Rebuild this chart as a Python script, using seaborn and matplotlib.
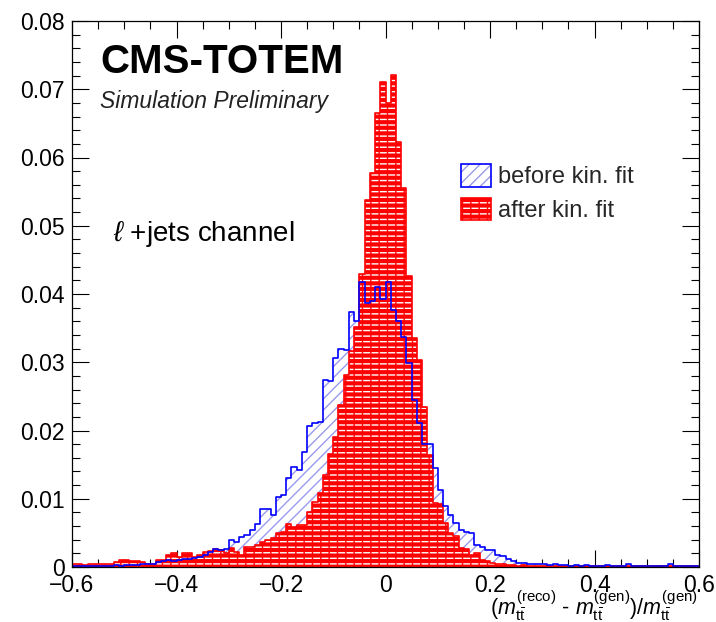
import numpy as np
import pandas as pd
import matplotlib
matplotlib.use("Agg")
import matplotlib.pyplot as plt
from matplotlib.patches import Patch
from matplotlib.ticker import MultipleLocator, FixedLocator
import seaborn as sns

# ---------------- data ----------------
x_min, x_max, bin_width = -0.6, 0.6, 0.01
y_ticks = [0, 0.01, 0.02, 0.03, 0.04, 0.05, 0.06, 0.07, 0.08]
x_ticks = [-0.6, -0.4, -0.2, 0, 0.2, 0.4, 0.6]

before_fit = [
    0.0002, 0.0002, 0.0001, 0.0002, 0.0002, 0.0001, 0.0002, 0.0002, 0.0003, 0.0002,
    0.0003, 0.0003, 0.0003, 0.0004, 0.0004, 0.0005, 0.0007, 0.0009, 0.0010, 0.0009,
    0.0010, 0.0011, 0.0012, 0.0013, 0.0015, 0.0018, 0.0022, 0.0027, 0.0025, 0.0027,
    0.0040, 0.0037, 0.0044, 0.0047, 0.0054, 0.0063, 0.0085, 0.0085, 0.0076, 0.0102,
    0.0106, 0.0130, 0.0147, 0.0142, 0.0169, 0.0207, 0.0211, 0.0212, 0.0274, 0.0272,
    0.0306, 0.0319, 0.0318, 0.0374, 0.0360, 0.0417, 0.0387, 0.0390, 0.0410, 0.0392,
    0.0417, 0.0377, 0.0360, 0.0337, 0.0299, 0.0245, 0.0211, 0.0180, 0.0180, 0.0145,
    0.0113, 0.0090, 0.0076, 0.0064, 0.0054, 0.0052, 0.0050, 0.0032, 0.0030, 0.0025,
    0.0025, 0.0018, 0.0016, 0.0012, 0.0009, 0.0006, 0.0006, 0.0005, 0.0004, 0.0004,
    0.0004, 0.0003, 0.0004, 0.0003, 0.0003, 0.0002, 0.0003, 0.0002, 0.0003, 0.0002,
    0.0002, 0.0002, 0.0003, 0.0002, 0.0002, 0.0002, 0.0004, 0.0002, 0.0002, 0.0001,
    0.0002, 0.0001, 0.0002, 0.0001, 0.0004, 0.0001, 0.0001, 0.0001, 0.0001, 0.0001,
]

after_fit = [
    0.0004, 0.0004, 0.0003, 0.0004, 0.0004, 0.0005, 0.0005, 0.0005, 0.0007, 0.0010,
    0.0010, 0.0009, 0.0009, 0.0008, 0.0005, 0.0005, 0.0010, 0.0010, 0.0017, 0.0021,
    0.0015, 0.0020, 0.0020, 0.0014, 0.0017, 0.0022, 0.0024, 0.0027, 0.0025, 0.0020,
    0.0028, 0.0022, 0.0017, 0.0030, 0.0030, 0.0032, 0.0037, 0.0040, 0.0042, 0.0050,
    0.0052, 0.0063, 0.0058, 0.0061, 0.0062, 0.0080, 0.0095, 0.0108, 0.0135, 0.0165,
    0.0190, 0.0238, 0.0282, 0.0316, 0.0352, 0.0430, 0.0538, 0.0578, 0.0665, 0.0711,
    0.0680, 0.0721, 0.0622, 0.0556, 0.0427, 0.0336, 0.0304, 0.0235, 0.0164, 0.0094,
    0.0092, 0.0064, 0.0050, 0.0046, 0.0028, 0.0026, 0.0017, 0.0020, 0.0010, 0.0009,
    0.0006, 0.0004, 0.0004, 0.0003, 0.0003, 0.0002, 0.0003, 0.0002, 0.0002, 0.0002,
    0.0002, 0.0002, 0.0001, 0.0002, 0.0002, 0.0001, 0.0002, 0.0001, 0.0001, 0.0002,
    0.0001, 0.0001, 0.0002, 0.0001, 0.0001, 0.0001, 0.0002, 0.0001, 0.0001, 0.0001,
    0.0001, 0.0001, 0.0001, 0.0001, 0.0001, 0.0002, 0.0001, 0.0001, 0.0001, 0.0001,
]

labels = ["before kin. fit", "after kin. fit"]

n_bins = len(before_fit)
edges = [round(x_min + bin_width * i, 4) for i in range(n_bins + 1)]
centers = [(edges[i] + edges[i + 1]) / 2 for i in range(n_bins)]
df = pd.DataFrame({"x": centers, "before": before_fit, "after": after_fit})

# ---------------- style ----------------
sns.set_theme(style="ticks")
plt.rcParams["font.family"] = ["Liberation Sans", "DejaVu Sans"]
plt.rcParams["mathtext.fontset"] = "custom"
plt.rcParams["mathtext.rm"] = "Liberation Sans"
plt.rcParams["mathtext.it"] = "Liberation Sans:italic"
plt.rcParams["mathtext.bf"] = "Liberation Sans:bold"
plt.rcParams["hatch.linewidth"] = 1.0
plt.rcParams["axes.unicode_minus"] = True

BLUE = "#0000ff"
BLUE_HATCH = "#9a9aee"
RED = "#ff0000"

W, H = 716, 622
fig = plt.figure(figsize=(W / 100, H / 100), dpi=100)
ax = fig.add_axes([72 / W, 1 - 567 / H, (699 - 72) / W, (567 - 21) / H])


def hist_fill(col, face, hatch, hatch_color, z):
    n0 = len(ax.collections)
    sns.histplot(data=df, x="x", weights=col, bins=edges, element="step",
                 fill=True, ax=ax, color=face if face != "none" else "white",
                 alpha=1, linewidth=0)
    for poly in ax.collections[n0:]:
        poly.set_facecolor(face)
        poly.set_edgecolor(hatch_color)
        poly.set_hatch(hatch)
        poly.set_linewidth(0)
        poly.set_zorder(z)


def hist_line(col, color, z):
    n0 = len(ax.lines)
    sns.histplot(data=df, x="x", weights=col, bins=edges, element="step",
                 fill=False, ax=ax, color=color, linewidth=1.2)
    for ln in ax.lines[n0:]:
        ln.set_zorder(z)


hist_fill("before", "white", "///", BLUE_HATCH, 1)
hist_fill("after", RED, "---", "white", 2)
hist_fill("after", "none", "||", RED, 2.1)
hist_line("after", RED, 3)
hist_line("before", BLUE, 4)

ax.set_xlim(x_min, x_max)
ax.set_ylim(0, 0.08)
ax.set_xlabel("")
ax.set_ylabel("")

ax.xaxis.set_major_locator(FixedLocator(x_ticks))
ax.set_xticklabels(["\u22120.6", "\u22120.4", "\u22120.2", "0", "0.2", "0.4", "0.6"])
ax.xaxis.set_minor_locator(MultipleLocator(0.05))
ax.yaxis.set_major_locator(FixedLocator(y_ticks))
ax.set_yticklabels(["0", "0.01", "0.02", "0.03", "0.04", "0.05", "0.06", "0.07", "0.08"])
ax.yaxis.set_minor_locator(MultipleLocator(0.002))

ax.tick_params(which="both", direction="in", top=True, right=True,
               width=0.8, color="black", labelsize=16.5, labelcolor="black")
ax.tick_params(which="major", length=12)
ax.tick_params(which="minor", length=6)
ax.tick_params(axis="x", which="major", pad=5)
ax.tick_params(axis="y", which="major", pad=5)
for s in ax.spines.values():
    s.set_linewidth(0.9)
    s.set_color("black")
    s.set_visible(True)
    s.set_zorder(10)

# ---------------- texts ----------------
fig.text(100 / W, 1 - 73 / H, "CMS-TOTEM", fontsize=29, fontweight="bold",
         ha="left", va="baseline", color="black")
fig.text(100 / W, 1 - 108 / H, "Simulation Preliminary", fontsize=16.5,
         fontstyle="italic", ha="left", va="baseline", color="#222222")
fig.text(113 / W, 1 - 241 / H, r"$\ell$ +jets channel", fontsize=20,
         ha="left", va="baseline", color="black")
fig.text(698 / W, 1 - 615 / H,
         r"$(m_{\mathrm{t\bar{t}}}^{(\mathrm{reco})}$ - $m_{\mathrm{t\bar{t}}}^{(\mathrm{gen})})/m_{\mathrm{t\bar{t}}}^{(\mathrm{gen})}$",
         fontsize=15.5, ha="right", va="baseline", color="black")

# ---------------- legend ----------------
h_before = (Patch(facecolor="white", edgecolor=BLUE_HATCH, hatch="///", linewidth=0),
            Patch(facecolor="none", edgecolor=BLUE, linewidth=1.2))
h_after = (Patch(facecolor=RED, edgecolor="white", hatch="---", linewidth=0),
           Patch(facecolor="none", edgecolor=RED, hatch="||", linewidth=1.2))
leg = ax.legend([h_before, h_after], labels, loc="upper left",
                bbox_to_anchor=(461 / W, 1 - 164 / H), bbox_transform=fig.transFigure,
                frameon=False, fontsize=17, handlelength=1.25, handleheight=1.1,
                handletextpad=0.3, labelspacing=0.4, borderpad=0, borderaxespad=0)

fig.savefig("out.png", dpi=100, facecolor="white")
